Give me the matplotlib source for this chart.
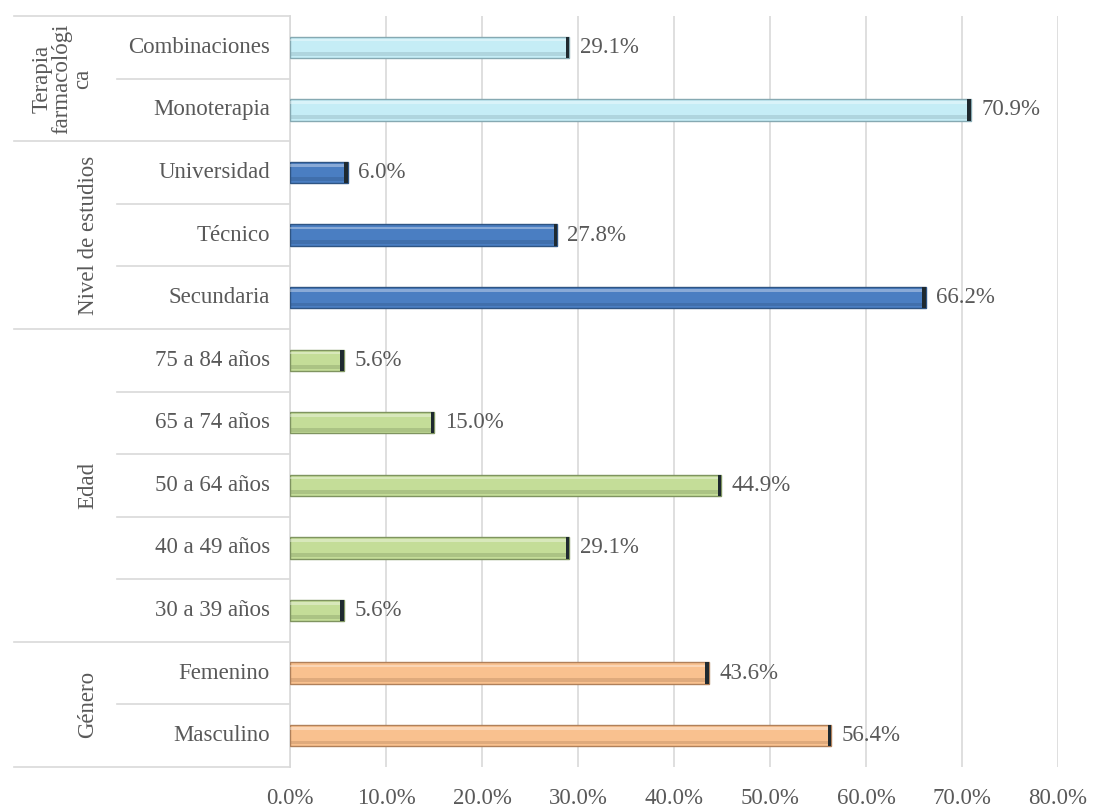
import matplotlib.pyplot as plt
import matplotlib.transforms as mtransforms
import numpy as np

plt.rcParams['font.family'] = ['Liberation Serif', 'DejaVu Serif']

# categories listed bottom to top
categorias = ['Masculino', 'Femenino',
              '30 a 39 años', '40 a 49 años', '50 a 64 años', '65 a 74 años', '75 a 84 años',
              'Secundaria', 'Técnico', 'Universidad',
              'Monoterapia', 'Combinaciones']
valores = [56.4, 43.6,
           5.6, 29.1, 44.9, 15.0, 5.6,
           66.2, 27.8, 6.0,
           70.9, 29.1]
grupos = ['Género', 'Edad', 'Nivel de estudios', 'Terapia\nfarmacológi\nca']
tam_grupos = [2, 5, 3, 2]
colores_grupo = ['#f9c18f', '#c4dd98', '#4a7ec2', '#c5edf6']
bordes_grupo = ['#b0805a', '#7f9460', '#2f5584', '#86a9b2']
ticks_x = [0, 10, 20, 30, 40, 50, 60, 70, 80]

W, H = 1094, 807
fig = plt.figure(figsize=(W / 100, H / 100), dpi=100)
ax = fig.add_axes([290 / W, 1 - 767 / H, (1058 - 290) / W, (767 - 16) / H])

colores = []
bordes = []
for c, b, n in zip(colores_grupo, bordes_grupo, tam_grupos):
    colores += [c] * n
    bordes += [b] * n

y = np.arange(len(categorias))
alto = 0.34
ax.barh(y, valores, height=alto, color=colores, edgecolor=bordes, linewidth=1.0, zorder=3)
# darker lower strip and lighter top strip for a bevel look
ax.barh(y - alto * 0.32, valores, height=alto * 0.18, color=bordes, alpha=0.35, linewidth=0, zorder=4)
ax.barh(y + alto * 0.34, valores, height=alto * 0.12, color='white', alpha=0.35, linewidth=0, zorder=4)
# dark end cap
ax.barh(y, [0.35] * len(valores), left=np.array(valores) - 0.35, height=alto,
        color='#1f2a30', linewidth=0, zorder=5)

gris = '#595959'
fs = 16.5
for yi, v in zip(y, valores):
    ax.text(v + 1.1, yi, f'{v:.1f}%', va='center', ha='left', fontsize=fs, color=gris)

ax.set_xlim(0, 80)
ax.set_ylim(-0.5, len(categorias) - 0.5)
ax.set_xticks(ticks_x)
ax.set_xticklabels([f'{t:.1f}%' for t in ticks_x], fontsize=fs, color=gris)
ax.tick_params(axis='x', length=0, pad=15)
ax.set_yticks([])
ax.grid(axis='x', color='#d9d9d9', linewidth=1.2, zorder=0)
for s in ['top', 'right', 'bottom']:
    ax.spines[s].set_visible(False)
ax.spines['left'].set_color('#d9d9d9')
ax.spines['left'].set_linewidth(1.2)

# left category table
tr = mtransforms.blended_transform_factory(fig.transFigure, ax.transData)
x0, x1, x2 = 14 / W, 117 / W, 290 / W
for yi, nombre in zip(y, categorias):
    fig.text(270 / W, yi, nombre, transform=tr, ha='right', va='center', fontsize=fs, color=gris)

inicio = -0.5
fig.add_artist(plt.Line2D([x0, x2], [inicio, inicio], transform=tr, color='#d9d9d9', lw=1.2))
for g, n in zip(grupos, tam_grupos):
    fin = inicio + n
    for k in range(1, n):
        fig.add_artist(plt.Line2D([x1, x2], [inicio + k, inicio + k], transform=tr, color='#d9d9d9', lw=1.2))
    fig.add_artist(plt.Line2D([x0, x2], [fin, fin], transform=tr, color='#d9d9d9', lw=1.2))
    lineas = g.count('\n')
    fig.text((88 - 13 * lineas) / W, (inicio + fin) / 2, g, transform=tr, rotation=90,
             ha='center', va='center', fontsize=fs, color=gris, linespacing=0.95,
             multialignment='center')
    inicio = fin

fig.savefig('out.png', dpi=100)
